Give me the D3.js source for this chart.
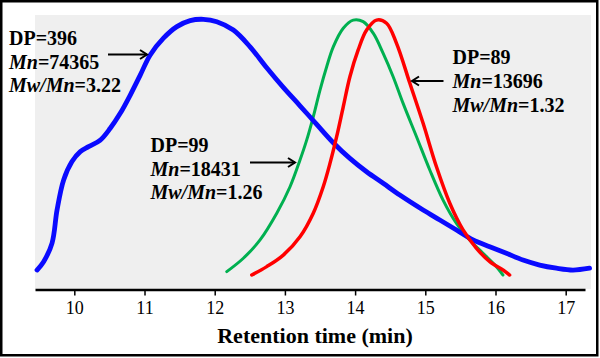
<!DOCTYPE html>
<html>
<head>
<meta charset="utf-8">
<script src="https://cdn.jsdelivr.net/npm/d3@7"></script>
<style>
  body { margin: 0; background: #fff; }
  svg { display: block; }
</style>
</head>
<body>
<div id="vizcontainer"></div>
<script>
const
  width = 600,
  height = 358
  ;

// retention time (min) vs normalized RI signal
const blueTime = [9.469, 9.563, 9.683, 9.754, 9.848, 9.967, 10.085, 10.203, 10.370, 10.512, 10.654, 10.797, 10.939, 11.081, 11.270, 11.461, 11.650, 11.839, 12.030, 12.266, 12.504, 12.741, 12.977, 13.215, 13.453, 13.689, 13.926, 14.164, 14.400, 14.637, 14.969, 15.207, 15.444, 15.680, 15.918, 16.155, 16.392, 16.629, 16.867, 17.103, 17.340];
const blueSignal = [0.038, 0.070, 0.141, 0.267, 0.382, 0.452, 0.490, 0.509, 0.534, 0.579, 0.636, 0.706, 0.782, 0.859, 0.923, 0.967, 0.990, 0.995, 0.986, 0.954, 0.890, 0.810, 0.735, 0.665, 0.594, 0.524, 0.464, 0.413, 0.369, 0.324, 0.267, 0.229, 0.191, 0.153, 0.127, 0.102, 0.076, 0.057, 0.045, 0.038, 0.045];

const greenTime = [12.172, 12.408, 12.646, 12.884, 13.073, 13.215, 13.310, 13.404, 13.500, 13.595, 13.689, 13.831, 13.973, 14.115, 14.258, 14.400, 14.542, 14.684, 14.875, 15.064, 15.253, 15.444, 15.633, 15.822, 16.013, 16.107];
const greenSignal = [0.032, 0.083, 0.153, 0.255, 0.356, 0.458, 0.534, 0.623, 0.725, 0.814, 0.890, 0.961, 0.992, 0.986, 0.942, 0.865, 0.776, 0.674, 0.547, 0.420, 0.305, 0.216, 0.153, 0.102, 0.051, 0.019];

const redTime = [12.528, 12.741, 12.977, 13.215, 13.404, 13.546, 13.642, 13.737, 13.831, 13.926, 14.044, 14.164, 14.306, 14.448, 14.590, 14.780, 14.969, 15.159, 15.349, 15.538, 15.729, 15.918, 16.107, 16.202];
const redSignal = [0.019, 0.051, 0.095, 0.165, 0.255, 0.356, 0.445, 0.547, 0.661, 0.776, 0.878, 0.954, 0.992, 0.980, 0.903, 0.751, 0.598, 0.432, 0.293, 0.191, 0.121, 0.070, 0.038, 0.019];

const xTicks = [10, 11, 12, 13, 14, 15, 16, 17];

// label lines: [text, italic?] pieces
const labelBlue = [[['DP=396', 0]], [['Mn', 1], ['=74365', 0]], [['Mw/Mn', 1], ['=3.22', 0]]];
const labelGreen = [[['DP=99', 0]], [['Mn', 1], ['=18431', 0]], [['Mw/Mn', 1], ['=1.26', 0]]];
const labelRed = [[['DP=89', 0]], [['Mn', 1], ['=13696', 0]], [['Mw/Mn', 1], ['=1.32', 0]]];

const serif = '"Liberation Serif"';

let xScale = d3.scaleLinear()
  .domain([9.44, 17.275])
  .range([35, 585]);

let yScale = d3.scaleLinear()
  .domain([0, 1])
  .range([280, 18]);

let viz = d3.select('#vizcontainer')
  .append('svg')
  .attr('width', width)
  .attr('height', height);

// frame + grey plot panel
viz.append('rect')
  .attr('x', 1.25).attr('y', 1.25)
  .attr('width', 596).attr('height', 354)
  .attr('fill', '#fff')
  .attr('stroke', '#000')
  .attr('stroke-width', 2.5);

viz.append('rect')
  .attr('x', 35).attr('y', 15)
  .attr('width', 556).attr('height', 274)
  .attr('fill', '#efefef');

const line = d3.line()
  .x(d => xScale(d[0]))
  .y(d => yScale(d[1]))
  .curve(d3.curveCatmullRom);

const series = [
  { t: greenTime, v: greenSignal, color: '#00b050', w: 3 },
  { t: blueTime, v: blueSignal, color: '#0a0aff', w: 4.8 },
  { t: redTime, v: redSignal, color: '#ff0000', w: 3.5 }
];

viz.append('g')
  .selectAll('path')
  .data(series)
  .join('path')
  .attr('d', s => line(s.t.map((t, i) => [t, s.v[i]])))
  .attr('fill', 'none')
  .attr('stroke', s => s.color)
  .attr('stroke-width', s => s.w)
  .attr('stroke-linejoin', 'round')
  .attr('stroke-linecap', 'round');

// x axis
let xAxis = viz.append('g')
  .attr('transform', 'translate(0,289.5)')
  .call(d3.axisBottom(xScale)
    .tickValues(xTicks)
    .tickFormat(d3.format('d'))
    .tickSize(6)
    .tickSizeOuter(0)
    .tickPadding(6));

xAxis.select('.domain').attr('stroke', '#000').attr('stroke-width', 2.5);
xAxis.selectAll('.tick line').attr('stroke', '#000').attr('stroke-width', 1.5);
xAxis.selectAll('.tick text')
  .attr('fill', '#000')
  .style('font-family', serif)
  .style('font-size', '18px');

viz.append('text')
  .attr('x', 315)
  .attr('y', 343)
  .attr('text-anchor', 'middle')
  .style('font-family', serif)
  .style('font-size', '22px')
  .style('font-weight', 'bold')
  .text('Retention time (min)');

// annotations
function addLabel(lines, x, y) {
  let t = viz.append('text')
    .attr('x', x)
    .attr('y', y)
    .style('font-family', serif)
    .style('font-size', '20px')
    .style('font-weight', 'bold')
    .attr('fill', '#000');
  lines.forEach((parts, i) => {
    parts.forEach((p, j) => {
      let ts = t.append('tspan').text(p[0]);
      if (j == 0) ts.attr('x', x).attr('y', y + i * 23.7);
      if (p[1]) ts.style('font-style', 'italic');
    });
  });
}

addLabel(labelBlue, 9, 45);
addLabel(labelGreen, 150.5, 152);
addLabel(labelRed, 452.5, 64.3);

function arrow(x1, x2, y) {
  const dir = x2 > x1 ? 1 : -1;
  let g = viz.append('g')
    .attr('stroke', '#000')
    .attr('stroke-width', 2)
    .attr('fill', 'none');
  g.append('line').attr('x1', x1).attr('y1', y).attr('x2', x2).attr('y2', y);
  g.append('path')
    .attr('d', `M${x2 - dir * 7},${y - 4.5}L${x2},${y}L${x2 - dir * 7},${y + 4.5}`)
    .attr('stroke-linejoin', 'miter');
}

arrow(108, 147, 54.5);
arrow(250, 295, 162.5);
arrow(443.5, 412, 81);
</script>
</body>
</html>
